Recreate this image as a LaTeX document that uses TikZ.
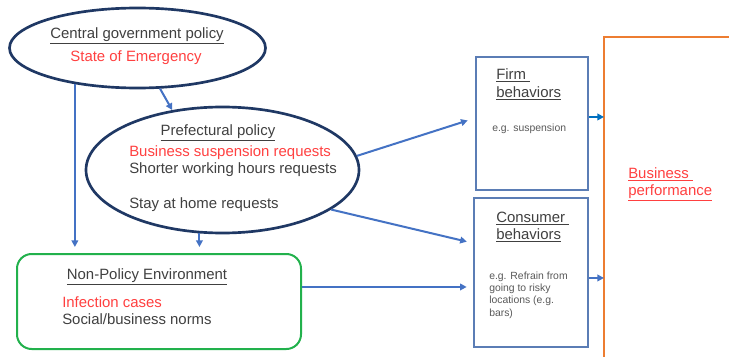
\documentclass[tikz,border=0pt]{standalone}
\usepackage{fontspec}
\setmainfont{Liberation Sans}
\usetikzlibrary{shapes.geometric,arrows.meta}
\definecolor{navy}{HTML}{1F3864}
\definecolor{arrowblue}{HTML}{4472C4}
\definecolor{deepblue}{HTML}{0070C0}
\definecolor{boxblue}{HTML}{5B7DB5}
\definecolor{leafgreen}{HTML}{22B14C}
\definecolor{tangerine}{HTML}{ED7D31}
\definecolor{alertred}{HTML}{FF4040}
\definecolor{ink}{HTML}{404040}
\definecolor{softink}{HTML}{595959}
\begin{document}
\begin{tikzpicture}[x=0.75pt,y=-0.75pt,
  policy/.style={ellipse,draw=navy,line width=2pt,inner sep=0pt},
  actor/.style={rectangle,draw=boxblue,line width=1pt,inner sep=0pt},
  txt/.style={inner sep=0pt,anchor=base west,text=ink,font=\fontsize{11.2}{13}\selectfont},
  head/.style={txt,anchor=base},
  alert/.style={txt,text=alertred},
  note/.style={txt,text=softink,font=\fontsize{7.8}{9}\selectfont},
  arr/.style={draw=arrowblue,line width=1.5pt,-{Triangle[length=5pt,width=5pt]}},
]
\useasboundingbox (0,0) rectangle (729,357);
\fill[white] (0,0) rectangle (729,357);

% policy ellipses
\node[policy,minimum width=256*0.75pt,minimum height=80*0.75pt] (cgp) at (137.5,48) {};
\node[policy,minimum width=273*0.75pt,minimum height=126*0.75pt] (pref) at (222.5,170) {};

% non-policy environment
\node[rectangle,rounded corners=11pt,draw=leafgreen,line width=1.5pt,
      minimum width=284*0.75pt,minimum height=95*0.75pt,inner sep=0pt] (npe) at (159,301.5) {};

% behaviour boxes
\node[actor,minimum width=112*0.75pt,minimum height=133*0.75pt] (firm) at (532,123.5) {};
\node[actor,minimum width=114*0.75pt,minimum height=149*0.75pt] (cons) at (531,272.5) {};

% business performance frame (open to the right and bottom)
\node[rectangle,inner sep=0pt,minimum width=140*0.75pt,minimum height=340*0.75pt,anchor=north west] (perf) at (604,37) {};
\draw[tangerine,line width=1.5pt] (perf.south west) -- (perf.north west) -- (perf.north east);

% texts
\node[head] (cgpT) at (137,38) {\underline{Central government policy}};
\node[alert,anchor=base] (cgpA) at (136,61) {State of Emergency};

\node[head] (prefT) at (218,135) {\underline{Prefectural policy}};
\node[alert] (prefA) at (129,156) {Business suspension requests};
\node[txt] (prefB) at (129,173) {Shorter working hours requests};
\node[txt] (prefC) at (129,208) {Stay at home requests};

\node[head] (npeT) at (147,279) {\underline{Non-Policy Environment}};
\node[alert] (npeA) at (62,307) {Infection cases};
\node[txt] (npeB) at (62,324) {Social/business norms};

\node[txt] (firmT1) at (496,79) {\underline{Firm~}};
\node[txt] (firmT2) at (496,97) {\underline{behaviors}};
\node[note] (firmN) at (492,131) {e.g. suspension};

\node[txt] (consT1) at (496,222) {\underline{Consumer~}};
\node[txt] (consT2) at (496,239) {\underline{behaviors}};
\node[note] (consN1) at (489,279) {e.g. Refrain from};
\node[note] (consN2) at (489,291.4) {going to risky};
\node[note] (consN3) at (489,303.8) {locations (e.g.};
\node[note] (consN4) at (489,316.2) {bars)};

\node[alert] (perfT1) at (628,178) {\underline{Business~}};
\node[alert] (perfT2) at (628,195) {\underline{performance}};

% connectors
\draw[arr] (cgp.-61) -- (pref.130);
\draw[arr,shorten >=4.5pt] (cgp.-150.75) -- (cgp.-150.75 |- npe.north);
\draw[arr,shorten >=4.5pt] (pref.-110) -- (pref.-110 |- npe.north);
\draw[arr,shorten >=6pt] (pref.6.9) -- ([yshift=4.1pt]firm.west);
\draw[arr,shorten >=5pt] (pref.-20.1) -- ([yshift=22pt]cons.west);
\draw[arr,shorten >=5pt] ([yshift=10.9pt]npe.east) -- ([yshift=10.9pt]npe.east -| cons.west);
\draw[arr,draw=deepblue] ([yshift=4.9pt]firm.east) -- ([yshift=4.9pt]firm.east -| perf.west);
\draw[arr] ([yshift=-4.1pt]cons.east) -- ([yshift=-4.1pt]cons.east -| perf.west);
\end{tikzpicture}
\end{document}
